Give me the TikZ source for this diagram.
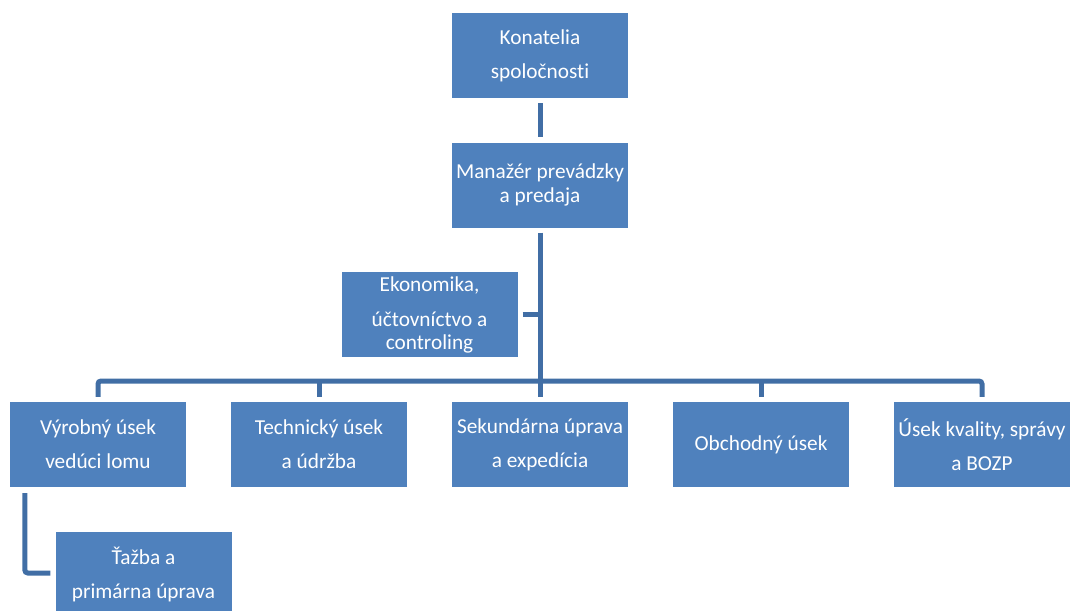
\documentclass[tikz,border=0pt]{standalone}
\usepackage{fontspec}
\setmainfont{Carlito}[Ligatures=NoCommon]
\definecolor{boxblue}{HTML}{4F81BD}
\definecolor{lineblue}{RGB}{65,110,165}
\begin{document}
\begin{tikzpicture}[x=1pt,y=-1pt,
  box/.style={fill=boxblue,draw=none,minimum width=176pt,minimum height=85pt,
    text=white,align=center,inner sep=0pt,font=\fontsize{21.3}{34}\selectfont},
  conn/.style={draw=lineblue,line width=5pt,rounded corners=3pt}]
\clip (0,0) rectangle (1070,610);
\node[box] (k) at (540,55.5) {Konatelia\\spoločnosti};
\node[box,font=\fontsize{21.3}{24}\selectfont] (m) at (540,185) {Manažér prevádzky\\a predaja};
\node[box,font=\fontsize{21.3}{23}\selectfont] (e) at (429.5,314.5) {Ekonomika,\\[12pt]účtovníctvo a\\controling};
\node[box] (v) at (98,444.5) {Výrobný úsek\\vedúci lomu};
\node[box] (t) at (319,444.5) {Technický úsek\\a údržba};
\node[box] (s) at (540,444.5) {Sekundárna úprava\\a expedícia};
\node[box] (o) at (761,444.5) {Obchodný úsek};
\node[box] (q) at (982,444.5) {Úsek kvality, správy\\a BOZP};
\node[box] (z) at (143.5,574.5) {Ťažba a\\primárna úprava};
\coordinate (bar) at (540,381);
\draw[conn] ([yshift=-5pt]k.south) -- ([yshift=5pt]m.north);
\draw[conn] ([yshift=-5pt]m.south) -- ([yshift=5pt]s.north);
\draw[conn] ([xshift=5pt]e.east) -- (e.east -| m.south);
\draw[conn] ([yshift=5pt]v.north) |- (bar) -| ([yshift=5pt]q.north);
\draw[conn] (bar -| t.north) -- ([yshift=5pt]t.north);
\draw[conn] (bar -| o.north) -- ([yshift=5pt]o.north);
\draw[conn] ([xshift=15pt,yshift=-6pt]v.south west) |- ([xshift=-5pt,yshift=1.5pt]z.west);
\end{tikzpicture}
\end{document}
